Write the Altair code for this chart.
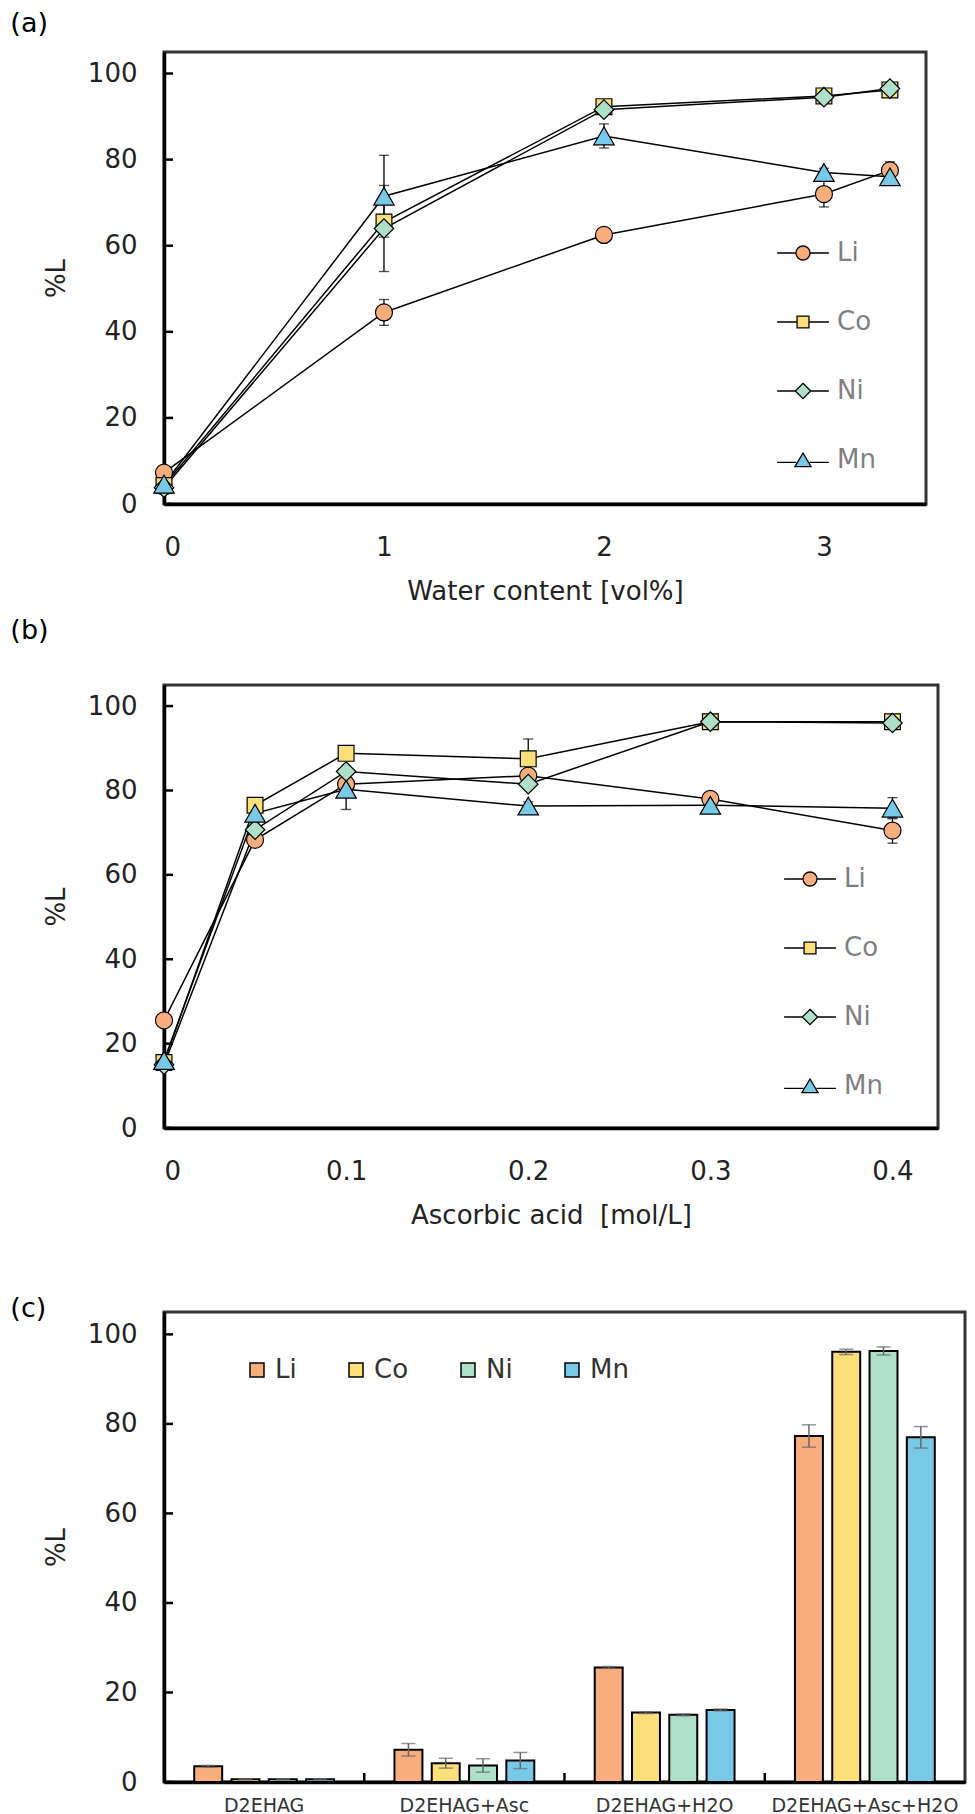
import altair as alt
import pandas as pd

# ---------------- data ----------------
metals = ["Li", "Co", "Ni", "Mn"]
metal_fill = ["#F8AE7C", "#FBDF7B", "#AEDFC8", "#78C8E8"]
metal_stroke = ["black", "black", "black", "black"]
point_shapes = ["circle", "square", "diamond", "triangle-up"]
point_sizes = [290, 250, 380, 420]
legend_paths = [
    "M-3.7,0L-1,0M1,0L3.7,0M1,0A1,1,0,1,1,-1,0A1,1,0,1,1,1,0Z",
    "M-3.7,0L-0.85,0M0.85,0L3.7,0M-0.85,-0.85L0.85,-0.85L0.85,0.85L-0.85,0.85Z",
    "M-3.7,0L-1.1,0M1.1,0L3.7,0M0,-1.1L1.1,0L0,1.1L-1.1,0Z",
    "M-3.7,0.35L-0.95,0.35M0.95,0.35L3.7,0.35M0,-1L1.15,0.95L-1.15,0.95Z",
]
y_ticks = [0, 20, 40, 60, 80, 100]

# (a) water content
water_x = [0, 1, 2, 3, 3.3]
water_li = [7.3, 44.5, 62.5, 72.0, 77.5]
water_co = [4.3, 65.5, 92.3, 94.8, 96.2]
water_ni = [3.8, 64.0, 91.6, 94.5, 96.5]
water_mn = [4.6, 71.5, 85.5, 77.0, 76.0]
water_li_err = [1.2, 3.0, 0.8, 3.0, 2.0]
water_co_err = [1.0, 1.0, 1.5, 1.0, 0.6]
water_ni_err = [1.5, 10.0, 1.0, 1.0, 0.9]
water_mn_err = [1.7, 9.5, 2.8, 1.0, 1.0]

# (b) ascorbic acid
asc_x = [0, 0.05, 0.1, 0.2, 0.3, 0.4]
asc_li = [25.5, 68.3, 81.5, 83.5, 78.0, 70.5]
asc_co = [15.5, 76.5, 88.8, 87.5, 96.3, 96.3]
asc_ni = [15.0, 70.7, 84.5, 81.5, 96.3, 96.0]
asc_mn = [16.0, 74.6, 80.3, 76.3, 76.5, 75.8]
asc_li_err = [0.3, 1.0, 1.0, 1.0, 1.5, 3.0]
asc_co_err = [0.3, 1.0, 1.5, 4.7, 0.5, 0.6]
asc_ni_err = [0.3, 1.0, 1.0, 1.0, 0.8, 0.9]
asc_mn_err = [0.3, 1.0, 4.8, 1.0, 1.0, 2.5]

# (c) bars
conditions = ["D2EHAG", "D2EHAG+Asc", "D2EHAG+H2O", "D2EHAG+Asc+H2O"]
bar_li = [3.5, 7.2, 25.6, 77.3]
bar_co = [0.6, 4.2, 15.5, 96.1]
bar_ni = [0.6, 3.7, 15.0, 96.3]
bar_mn = [0.6, 4.8, 16.1, 77.0]
bar_li_err = [0.2, 1.4, 0.2, 2.5]
bar_co_err = [0.1, 1.1, 0.2, 0.6]
bar_ni_err = [0.1, 1.5, 0.2, 0.9]
bar_mn_err = [0.1, 1.8, 0.2, 2.4]

FONT = "DejaVu Sans"


def long_df(xs, vals, errs, xname="x"):
    rows = []
    for k, m in enumerate(metals):
        for x, v, e in zip(xs, vals[k], errs[k]):
            rows.append({xname: x, "metal": m, "v": v, "lo": v - e, "hi": v + e})
    return pd.DataFrame(rows)


water_df = long_df(water_x, [water_li, water_co, water_ni, water_mn],
                   [water_li_err, water_co_err, water_ni_err, water_mn_err])
asc_df = long_df(asc_x, [asc_li, asc_co, asc_ni, asc_mn],
                 [asc_li_err, asc_co_err, asc_ni_err, asc_mn_err])
bar_df = long_df(conditions, [bar_li, bar_co, bar_ni, bar_mn],
                 [bar_li_err, bar_co_err, bar_ni_err, bar_mn_err], xname="cond")
tick_df = pd.DataFrame({"v": y_ticks})
bound_df = pd.DataFrame({"cond": conditions[1:]})

fill_scale = alt.Scale(domain=metals, range=metal_fill)
Y_DOMAIN = [0, 105]

Y_AXIS = alt.Axis(values=y_ticks, title="%L", ticks=False, labelPadding=27, titlePadding=18)


def line_panel(df, xdom, xvals, xfmt, xtitle, W, H, leg_x, leg_y, label, t_off, t_dx):
    xsc = alt.Scale(domain=xdom, nice=False, zero=False)
    ysc = alt.Scale(domain=Y_DOMAIN, nice=False)
    x_axis = alt.Axis(values=xvals, format=xfmt, title=xtitle, ticks=False,
                      labelPadding=30, titlePadding=18)

    def X():
        return alt.X("x:Q", scale=xsc, axis=x_axis, title=xtitle)

    def Y(f):
        return alt.Y(f + ":Q", scale=ysc, axis=Y_AXIS, title="%L")

    base = alt.Chart(df)
    layers = [
        base.mark_line(color="black", strokeWidth=1.5).encode(
            x=X(), y=Y("v"), detail="metal:N", order="x:Q"),
        base.mark_rule(color="black", strokeWidth=1.3).encode(x=X(), y=Y("lo"), y2="hi:Q"),
        base.mark_tick(orient="horizontal", color="black", size=10, thickness=1.3).encode(
            x=X(), y=Y("hi")),
        base.mark_tick(orient="horizontal", color="black", size=10, thickness=1.3).encode(
            x=X(), y=Y("lo")),
    ]
    for m, shp, sz, col in zip(metals, point_shapes, point_sizes, metal_fill):
        layers.append(
            base.transform_filter(alt.datum.metal == m).mark_point(
                shape=shp, size=sz, filled=True, opacity=1, fill=col,
                stroke="black", strokeWidth=1.2
            ).encode(x=X(), y=Y("v")))
    leg = dict(orient="none", legendX=leg_x, legendY=leg_y, direction="vertical", title=None,
               labelFontSize=26, labelColor="#7f7f7f", labelFont=FONT, symbolSize=196,
               symbolStrokeColor="black", symbolStrokeWidth=1.3, rowPadding=43,
               labelOffset=21, padding=0, symbolOpacity=1)
    layers.append(
        base.transform_filter("false").mark_point(
            filled=True, opacity=1, strokeWidth=1.3, size=196).encode(
            x=X(), y=Y("v"),
            shape=alt.Shape("metal:N", scale=alt.Scale(domain=metals, range=legend_paths),
                            legend=alt.Legend(**leg)),
            fill=alt.Fill("metal:N", scale=fill_scale, legend=alt.Legend(**leg)),
            stroke=alt.Stroke("metal:N", scale=alt.Scale(domain=metals, range=metal_stroke),
                              legend=alt.Legend(**leg))))
    layers.append(
        alt.Chart(tick_df).mark_rule(color="black", strokeWidth=2.5).encode(
            y=Y("v"), x=alt.value(0), x2=alt.value(9)))
    return alt.layer(*layers).properties(
        width=W, height=H,
        title=alt.TitleParams(label, anchor="start", frame="bounds", fontSize=27,
                              fontWeight="normal", color="black", font=FONT,
                              offset=t_off, dx=t_dx))


panel_a = line_panel(water_df, [0, 3.464], [0, 1, 2, 3], "d", "Water content [vol%]",
                     762, 452, 626, 188, "(a)", 14, -33)
panel_b = line_panel(asc_df, [0, 0.425], [0, 0.1, 0.2, 0.3, 0.4], "~g",
                     "Ascorbic acid \u00a0[mol/L]", 774, 443, 633, 181, "(b)", 40, -33)

# ---- (c) bars ----
ysc_c = alt.Scale(domain=Y_DOMAIN, nice=False)
xsc_c = alt.Scale(domain=conditions, paddingInner=0, paddingOuter=0)
XC_AXIS = alt.Axis(title=None, labelAngle=0, labelFontSize=19, labelPadding=14,
                   ticks=False, labelColor="#333", labelLimit=0)


def XC(**kw):
    return alt.X("cond:N", sort=conditions, scale=xsc_c, axis=XC_AXIS, title=None, **kw)


def YC(f):
    return alt.Y(f + ":Q", scale=ysc_c, axis=Y_AXIS, title="%L")


xoff = alt.XOffset("metal:N", scale=alt.Scale(domain=metals, paddingInner=0.25, paddingOuter=0.81))
cbase = alt.Chart(bar_df)
bars = cbase.mark_bar(stroke="black", strokeWidth=2).encode(
    x=XC(), xOffset=xoff, y=YC("v"),
    fill=alt.Fill("metal:N", scale=fill_scale,
                  legend=alt.Legend(orient="none", legendX=80, legendY=45, direction="horizontal",
                                    columns=4, title=None, symbolType="square", symbolSize=196,
                                    symbolStrokeColor="black", symbolStrokeWidth=1.5,
                                    labelFontSize=26, labelColor="#333", labelFont=FONT,
                                    columnPadding=46, labelOffset=5, padding=0,
                                    gridAlign="none", symbolOpacity=1)))
bar_err = cbase.mark_rule(color="#666", strokeWidth=1.5).encode(
    x=XC(), xOffset=xoff, y=YC("lo"), y2="hi:Q")
bar_cap_hi = cbase.mark_tick(orient="horizontal", color="#666", size=14, thickness=1.5).encode(
    x=XC(), xOffset=xoff, y=YC("hi"))
bar_cap_lo = cbase.mark_tick(orient="horizontal", color="#666", size=14, thickness=1.5).encode(
    x=XC(), xOffset=xoff, y=YC("lo"))
c_yticks = alt.Chart(tick_df).mark_rule(color="black", strokeWidth=2.5).encode(
    y=YC("v"), x=alt.value(0), x2=alt.value(9))
c_xticks = alt.Chart(bound_df).mark_rule(color="black", strokeWidth=2.5).encode(
    x=XC(bandPosition=0), y=alt.value(470), y2=alt.value(461))
panel_c = alt.layer(bars, bar_err, bar_cap_hi, bar_cap_lo, c_yticks, c_xticks).properties(
    width=801, height=470,
    title=alt.TitleParams(["", "(c)"], anchor="start", frame="bounds", fontSize=27,
                          fontWeight="normal", color="black", font=FONT, offset=-11, dx=-33,
                          lineHeight=54))

chart = alt.concat(panel_a, panel_b, panel_c, columns=1, spacing=9).resolve_scale(
    fill="independent", shape="independent", stroke="independent"
).resolve_legend(
    fill="independent", shape="independent", stroke="independent"
).properties(
    padding=0
).configure(font=FONT).configure_view(
    stroke="#333", strokeWidth=3
).configure_axis(
    domainColor="black", domainWidth=3.5, labelFont=FONT, labelFontSize=26,
    labelColor="#222", titleFont=FONT, titleFontSize=26, titleFontWeight="normal",
    titleColor="#222", grid=False
)

chart.save("out.html", embed_options={"renderer": "svg", "actions": False})
